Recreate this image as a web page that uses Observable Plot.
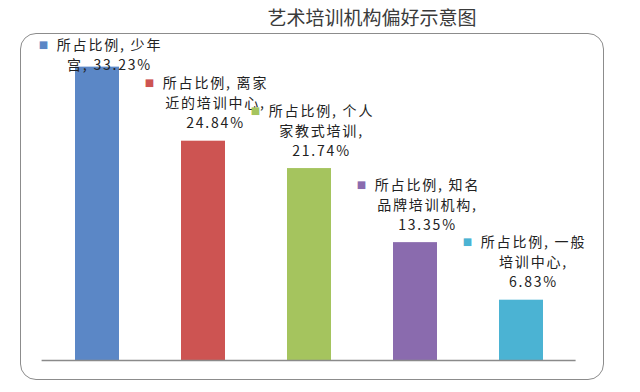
<!DOCTYPE html>
<html><head><meta charset="utf-8">
<script src="https://cdn.jsdelivr.net/npm/d3@7"></script>
<script src="https://cdn.jsdelivr.net/npm/@observablehq/plot@0.6"></script>
<style>
body{margin:0;background:#fff;width:640px;height:392px;position:relative;overflow:hidden;font-family:"Noto Sans CJK SC",sans-serif;}
#title{height:30px;width:640px;box-sizing:border-box;padding-left:104px;text-align:center;font-size:19px;line-height:34px;color:#3a3a3a;}
#border{position:absolute;left:20px;top:33px;width:584px;height:347px;box-sizing:border-box;border:1.5px solid #8c8c8c;border-radius:16px;pointer-events:none;}
#chart svg{display:block;}
.lbl text{letter-spacing:1.8px;}
</style></head>
<body>
<div id="title">艺术培训机构偏好示意图</div>
<div id="chart"></div>
<div id="border"></div>
<script>
const categories = ["少年宫","离家近的培训中心","个人家教式培训","知名品牌培训机构","一般培训中心"];
const values = [33.23, 24.84, 21.74, 13.35, 6.83];
const colors = ["#5B87C6","#CD5452","#A5C45E","#8A6BAE","#4BB3D3"];
const labelLines = [
  ["所占比例, 少年","宫, 33.23%"],
  ["所占比例, 离家","近的培训中心,","24.84%"],
  ["所占比例, 个人","家教式培训,","21.74%"],
  ["所占比例, 知名","品牌培训机构,","13.35%"],
  ["所占比例, 一般","培训中心,","6.83%"]
];
const data = categories.map((c,i)=>({
  category:c, value:values[i], color:colors[i],
  label: labelLines[i].join("\n"),
  marker: "■" + "\n".repeat(labelLines[i].length-1)
}));
const labelY = d => Math.min(d.value + 1.47, 32.95);
const chart = Plot.plot({
  width:640, height:362,
  marginLeft:41.6, marginRight:64.4, marginTop:21, marginBottom:32,
  x:{domain:categories, axis:null, paddingInner:0.585, paddingOuter:0.2925},
  y:{domain:[0,35], axis:null},
  color:{type:"identity"},
  marks:[
    Plot.barY(data,{x:"category", y:"value", fill:"color"}),
    Plot.ruleY([0],{stroke:"#8a8a8a", strokeWidth:1.5}),
    Plot.text(data,{x:"category", y:labelY, text:"label", dx:12, lineAnchor:"bottom", lineHeight:20/14, fontSize:14, fill:"#222", fontFamily:"Noto Sans CJK SC", className:"lbl"}),
    Plot.text(data,{x:"category", y:labelY, text:"marker", dx:-54, dy:-2, lineAnchor:"bottom", lineHeight:20/10, fontSize:10, fill:"color", fontFamily:"DejaVu Sans"})
  ]
});
document.getElementById("chart").appendChild(chart);
</script>
</body></html>
